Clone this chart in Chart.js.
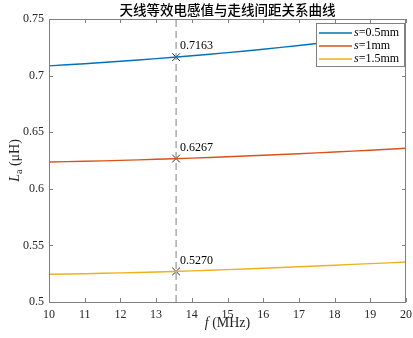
<!DOCTYPE html>
<html lang="zh">
<head>
    <meta charset="UTF-8">
    <title>天线等效电感值与走线间距关系曲线</title>
    <script src="https://cdn.jsdelivr.net/npm/chart.js"></script>
    <style>
        body { margin: 0; padding: 0; background: #fff; }
        #wrap { width: 413px; height: 338px; }
    </style>
</head>
<body>
    <div id="wrap"><canvas id="chart" width="413" height="338"></canvas></div>
    <script>
        // data
        const freq = [10, 11, 12, 13, 14, 15, 16, 17, 18, 19, 20];
        const s05 = [0.7086, 0.7105, 0.7127, 0.7150, 0.7175, 0.7203, 0.7233, 0.7266, 0.7301, 0.7339, 0.7380];
        const s1 = [0.6237, 0.6243, 0.6251, 0.6261, 0.6271, 0.6283, 0.6296, 0.6310, 0.6325, 0.6341, 0.6358];
        const s15 = [0.5245, 0.5250, 0.5257, 0.5265, 0.5275, 0.5286, 0.5298, 0.5311, 0.5325, 0.5339, 0.5353];
        const seriesNames = ['0.5mm', '1mm', '1.5mm'];
        const markFreq = 13.56;
        const markValues = [0.7163, 0.6267, 0.5270];
        const xTicks = [10, 11, 12, 13, 14, 15, 16, 17, 18, 19, 20];
        const yTicks = [0.5, 0.55, 0.6, 0.65, 0.7, 0.75];

        const colors = ['#0072BD', '#D95319', '#EDB120'];
        const serif = '"Liberation Serif", "Times New Roman", serif';
        const axisGray = '#808080';
        const textDark = '#262626';

        const toPts = ys => freq.map((f, i) => ({ x: f, y: ys[i] }));

        const lineSets = [s05, s1, s15].map((ys, i) => ({
            label: 's=' + seriesNames[i],
            data: toPts(ys),
            borderColor: colors[i],
            backgroundColor: colors[i],
            borderWidth: 1.4,
            pointRadius: 0,
            tension: 0.3,
            fill: false
        }));

        const dashSet = {
            label: 'dash',
            data: [{ x: markFreq, y: yTicks[0] }, { x: markFreq, y: yTicks[yTicks.length - 1] }],
            borderColor: axisGray,
            borderWidth: 1,
            borderDash: [7, 4],
            pointRadius: 0,
            fill: false
        };

        const markSet = {
            label: 'marks',
            data: markValues.map(v => ({ x: markFreq, y: v })),
            showLine: false,
            pointStyle: 'crossRot',
            pointRadius: 5.5,
            pointBorderColor: '#333333',
            pointBorderWidth: 1,
            pointBackgroundColor: '#333333'
        };

        const decor = {
            id: 'decor',
            afterDatasetsDraw(chart) {
                const ctx = chart.ctx;
                const a = chart.chartArea;
                // mark labels
                const meta = chart.getDatasetMeta(chart.data.datasets.indexOf(markSet));
                ctx.save();
                ctx.font = '12px ' + serif;
                ctx.fillStyle = '#000';
                ctx.textAlign = 'left';
                ctx.textBaseline = 'middle';
                meta.data.forEach((pt, i) => {
                    ctx.fillText(markValues[i].toFixed(4), pt.x + 4, pt.y - 11);
                });

                // legend box
                const lx = a.right - 90, ly = a.top + 4, lw = 89, lh = 44;
                ctx.fillStyle = '#fff';
                ctx.fillRect(lx, ly, lw, lh);
                ctx.strokeStyle = axisGray;
                ctx.lineWidth = 1;
                ctx.strokeRect(lx + 0.5, ly + 0.5, lw - 1, lh - 1);
                lineSets.forEach((ds, i) => {
                    const y = ly + 10 + i * 13;
                    ctx.strokeStyle = ds.borderColor;
                    ctx.lineWidth = 1.4;
                    ctx.beginPath();
                    ctx.moveTo(lx + 3, y);
                    ctx.lineTo(lx + 36, y);
                    ctx.stroke();
                    ctx.fillStyle = '#000';
                    ctx.font = 'italic 12px ' + serif;
                    ctx.fillText('s', lx + 38, y);
                    const w = ctx.measureText('s').width;
                    ctx.font = '12px ' + serif;
                    ctx.fillText('=' + seriesNames[i], lx + 38 + w, y);
                });
                ctx.restore();
            },
            afterDraw(chart) {
                const ctx = chart.ctx;
                const a = chart.chartArea;
                const xs = chart.scales.x, ys = chart.scales.y;
                ctx.save();
                // box
                ctx.strokeStyle = axisGray;
                ctx.lineWidth = 1;
                ctx.strokeRect(Math.round(a.left) + 0.5, Math.round(a.top) + 0.5,
                    Math.round(a.right - a.left) - 1, Math.round(a.bottom - a.top));
                // inward ticks
                const tl = 4;
                ctx.beginPath();
                xTicks.forEach(v => {
                    const px = Math.round(xs.getPixelForValue(v)) + 0.5;
                    ctx.moveTo(px, a.bottom); ctx.lineTo(px, a.bottom - tl);
                    ctx.moveTo(px, a.top); ctx.lineTo(px, a.top + tl);
                });
                yTicks.forEach(v => {
                    const py = Math.round(ys.getPixelForValue(v)) + 0.5;
                    ctx.moveTo(a.left, py); ctx.lineTo(a.left + tl, py);
                    ctx.moveTo(a.right, py); ctx.lineTo(a.right - tl, py);
                });
                ctx.stroke();

                // title
                ctx.fillStyle = '#000';
                ctx.textAlign = 'center';
                ctx.textBaseline = 'middle';
                ctx.font = '500 13.5px "Noto Sans CJK SC", sans-serif';
                ctx.fillText('天线等效电感值与走线间距关系曲线', (a.left + a.right) / 2, 9.5);

                // x title: f (MHz)
                ctx.font = 'italic 14px ' + serif;
                const fW = ctx.measureText('f').width;
                ctx.font = '14px ' + serif;
                const restX = ' (MHz)';
                const rW = ctx.measureText(restX).width;
                const cx = (a.left + a.right) / 2;
                let x0 = cx - (fW + rW) / 2;
                ctx.textAlign = 'left';
                ctx.fillStyle = textDark;
                ctx.font = 'italic 14px ' + serif;
                ctx.fillText('f', x0, 323);
                ctx.font = '14px ' + serif;
                ctx.fillText(restX, x0 + fW, 323);

                // y title: La (μH)
                ctx.translate(15, (a.top + a.bottom) / 2);
                ctx.rotate(-Math.PI / 2);
                ctx.font = 'italic 14px ' + serif;
                const lW = ctx.measureText('L').width;
                ctx.font = '10px ' + serif;
                const aW = ctx.measureText('a').width;
                ctx.font = '14px ' + serif;
                const uW = ctx.measureText(' (μH)').width;
                let y0 = -(lW + aW + uW) / 2;
                ctx.font = 'italic 14px ' + serif;
                ctx.fillText('L', y0, 0);
                ctx.font = '10px ' + serif;
                ctx.fillText('a', y0 + lW, 4);
                ctx.font = '14px ' + serif;
                ctx.fillText(' (μH)', y0 + lW + aW, 0);
                ctx.restore();
            }
        };

        new Chart(document.getElementById('chart'), {
            type: 'line',
            data: { datasets: [...lineSets, dashSet, markSet] },
            options: {
                responsive: false,
                animation: false,
                layout: { padding: { top: 19, right: 7, left: 0, bottom: 0 } },
                plugins: {
                    legend: { display: false },
                    title: { display: false },
                    tooltip: { enabled: false }
                },
                scales: {
                    x: {
                        type: 'linear',
                        min: 10,
                        max: 20,
                        afterFit: s => { s.height = 36; s.paddingLeft = 0; s.paddingRight = 0; },
                        afterBuildTicks: s => { s.ticks = xTicks.map(v => ({ value: v })); },
                        grid: { display: false, drawTicks: false },
                        border: { display: false },
                        ticks: {
                            padding: 6,
                            color: textDark,
                            font: { family: serif, size: 12 },
                            maxRotation: 0
                        }
                    },
                    y: {
                        min: 0.5,
                        max: 0.75,
                        afterFit: s => { s.width = 49; s.paddingTop = 0; s.paddingBottom = 0; },
                        afterBuildTicks: s => { s.ticks = yTicks.map(v => ({ value: v })); },
                        grid: { display: false, drawTicks: false },
                        border: { display: false },
                        ticks: {
                            padding: 5,
                            color: textDark,
                            font: { family: serif, size: 12 },
                            callback: v => String(+v.toFixed(2))
                        }
                    }
                }
            },
            plugins: [decor]
        });
    </script>
</body>
</html>
